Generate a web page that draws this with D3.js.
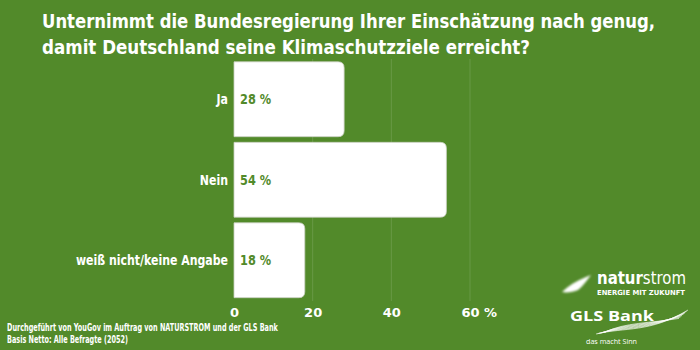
<!DOCTYPE html>
<html>
<head>
<meta charset="utf-8">
<script src="https://cdn.jsdelivr.net/npm/d3@7"></script>
<style>
  html, body { margin: 0; padding: 0; background: #528a2a; }
  svg { display: block; }
  text { font-family: "DejaVu Sans Condensed", "DejaVu Sans", sans-serif; }
</style>
</head>
<body>
<svg id="chart" width="700" height="350"></svg>
<script>
// Survey answers and shares (%)
const categories = ["Ja", "Nein", "weiß nicht/keine Angabe"];
const values = [28, 54, 18];
const xTicks = [0, 20, 40, 60];
const titleLines = [
  "Unternimmt die Bundesregierung Ihrer Einschätzung nach genug,",
  "damit Deutschland seine Klimaschutzziele erreicht?"
];
const footnotes = [
  "Durchgeführt von YouGov im Auftrag von NATURSTROM und der GLS Bank",
  "Basis Netto: Alle Befragte (2052)"
];

const green = "#528a2a";
const svg = d3.select("#chart");
svg.append("rect").attr("width", 700).attr("height", 350).attr("fill", green);

// Narrow a text run horizontally to a given fraction of its natural width
function squeeze(sel, factor) {
  sel.each(function () {
    const w = this.getComputedTextLength();
    d3.select(this).attr("textLength", w * factor).attr("lengthAdjust", "spacingAndGlyphs");
  });
}
// Fit a text run to an exact width
function fitTo(sel, width) {
  sel.attr("textLength", width).attr("lengthAdjust", "spacingAndGlyphs");
}

// Title
const title = svg.append("g").selectAll("text").data(titleLines).join("text")
  .attr("x", 42).attr("y", (d, i) => 27.5 + i * 26.5)
  .attr("fill", "#fff").attr("font-size", 19.5).attr("font-weight", "bold")
  .text(d => d);
title.each(function (d, i) { fitTo(d3.select(this), i === 0 ? 613 : 488); });

// Scales
const x = d3.scaleLinear().domain([0, 60]).range([234, 470]);
const y = d3.scaleBand().domain(categories).range([59, 300.5])
  .paddingInner(0.07).paddingOuter(0.035);

// Vertical grid lines
svg.append("g").selectAll("line").data(xTicks.slice(1)).join("line")
  .attr("x1", d => x(d)).attr("x2", d => x(d))
  .attr("y1", 59).attr("y2", 301)
  .attr("stroke", "rgba(255,255,255,0.13)").attr("stroke-width", 1);

// Bars: square at the axis, rounded at the end
const r = 6;
function barPath(d, i) {
  const x0 = x(0), x1 = x(d), y0 = y(categories[i]), h = y.bandwidth();
  return `M${x0},${y0}H${x1 - r}Q${x1},${y0} ${x1},${y0 + r}V${y0 + h - r}Q${x1},${y0 + h} ${x1 - r},${y0 + h}H${x0}Z`;
}
svg.append("g").selectAll("path").data(values).join("path")
  .attr("d", barPath)
  .attr("fill", "#fff")
  .attr("stroke", "#c9cfc2").attr("stroke-width", 0.8);

// Value labels inside bars
svg.append("g").selectAll("text").data(values).join("text")
  .attr("x", x(0) + 6)
  .attr("y", (d, i) => y(categories[i]) + y.bandwidth() / 2 + 5)
  .attr("fill", green).attr("font-size", 14).attr("font-weight", "bold")
  .text(d => d + " %")
  .call(squeeze, 0.9);

// Category labels
svg.append("g").selectAll("text").data(categories).join("text")
  .attr("x", 228)
  .attr("y", d => y(d) + y.bandwidth() / 2 + 5)
  .attr("text-anchor", "end")
  .attr("fill", "#fff").attr("font-size", 14).attr("font-weight", "bold")
  .text(d => d)
  .call(squeeze, 0.87);

// X axis tick labels
const axis = svg.append("g").attr("transform", "translate(0,301)")
  .call(d3.axisBottom(x).tickValues(xTicks).tickSize(0).tickPadding(7));
axis.select(".domain").remove();
axis.selectAll("text")
  .attr("fill", "#fff").attr("font-size", 13).attr("font-weight", "bold")
  .style("font-family", "\"DejaVu Sans\", sans-serif");
axis.selectAll(".tick").filter(d => d === 60).select("text")
  .attr("text-anchor", "start").attr("dx", -9).text("60 %");

// Footnotes
svg.append("g").selectAll("text").data(footnotes).join("text")
  .attr("x", 7).attr("y", (d, i) => 331 + i * 12)
  .attr("fill", "#fff").attr("font-size", 10).attr("font-weight", "bold")
  .text(d => d)
  .call(squeeze, 0.72);

// naturstrom logo
const logo = svg.append("g");
const defs = svg.append("defs");
defs.append("filter").attr("id", "soft").append("feGaussianBlur").attr("stdDeviation", 1.2);
logo.append("path")
  .attr("d", "M562,292 C568,286 576,281 586,277 L591,275 C587,280 583,286 578,290 C573,292 567,293 562,292 Z")
  .attr("fill", "#fff").attr("filter", "url(#soft)");
const ns = logo.append("text").attr("x", 597).attr("y", 284)
  .attr("fill", "#fff").attr("font-size", 18)
  .style("font-family", "\"DejaVu Sans\", sans-serif");
ns.append("tspan").attr("font-weight", "bold").text("natur");
ns.append("tspan").text("strom");
fitTo(ns, 89);
const tag = logo.append("text").attr("x", 597).attr("y", 295)
  .attr("fill", "#fff").attr("font-size", 7).attr("font-weight", "bold")
  .style("font-family", "\"DejaVu Sans\", sans-serif")
  .text("ENERGIE MIT ZUKUNFT");
fitTo(tag, 88);

// GLS Bank logo
const gls = logo.append("text").attr("x", 570).attr("y", 321)
  .attr("fill", "#fff").attr("font-size", 15).attr("font-weight", "bold")
  .style("font-family", "\"Open Sans\", sans-serif")
  .text("GLS Bank");
fitTo(gls, 84);
const sw = d3.range(7);
logo.append("g").selectAll("path").data(sw).join("path")
  .attr("d", k => `M${596 + k * 1.5},${334 - k * 0.3} C${625},${327 - k * 0.8} ${650},${333 - k * 1.6} ${688 - k * 1.5},${310 + k * 1.4}`)
  .attr("fill", "none").attr("stroke", "#fff").attr("stroke-width", 0.7).attr("opacity", 0.9);
const sinn = logo.append("text").attr("x", 586).attr("y", 344)
  .attr("fill", "#fff").attr("font-size", 8)
  .style("font-family", "\"Open Sans\", sans-serif")
  .text("das macht Sinn");
fitTo(sinn, 51);
</script>
</body>
</html>
